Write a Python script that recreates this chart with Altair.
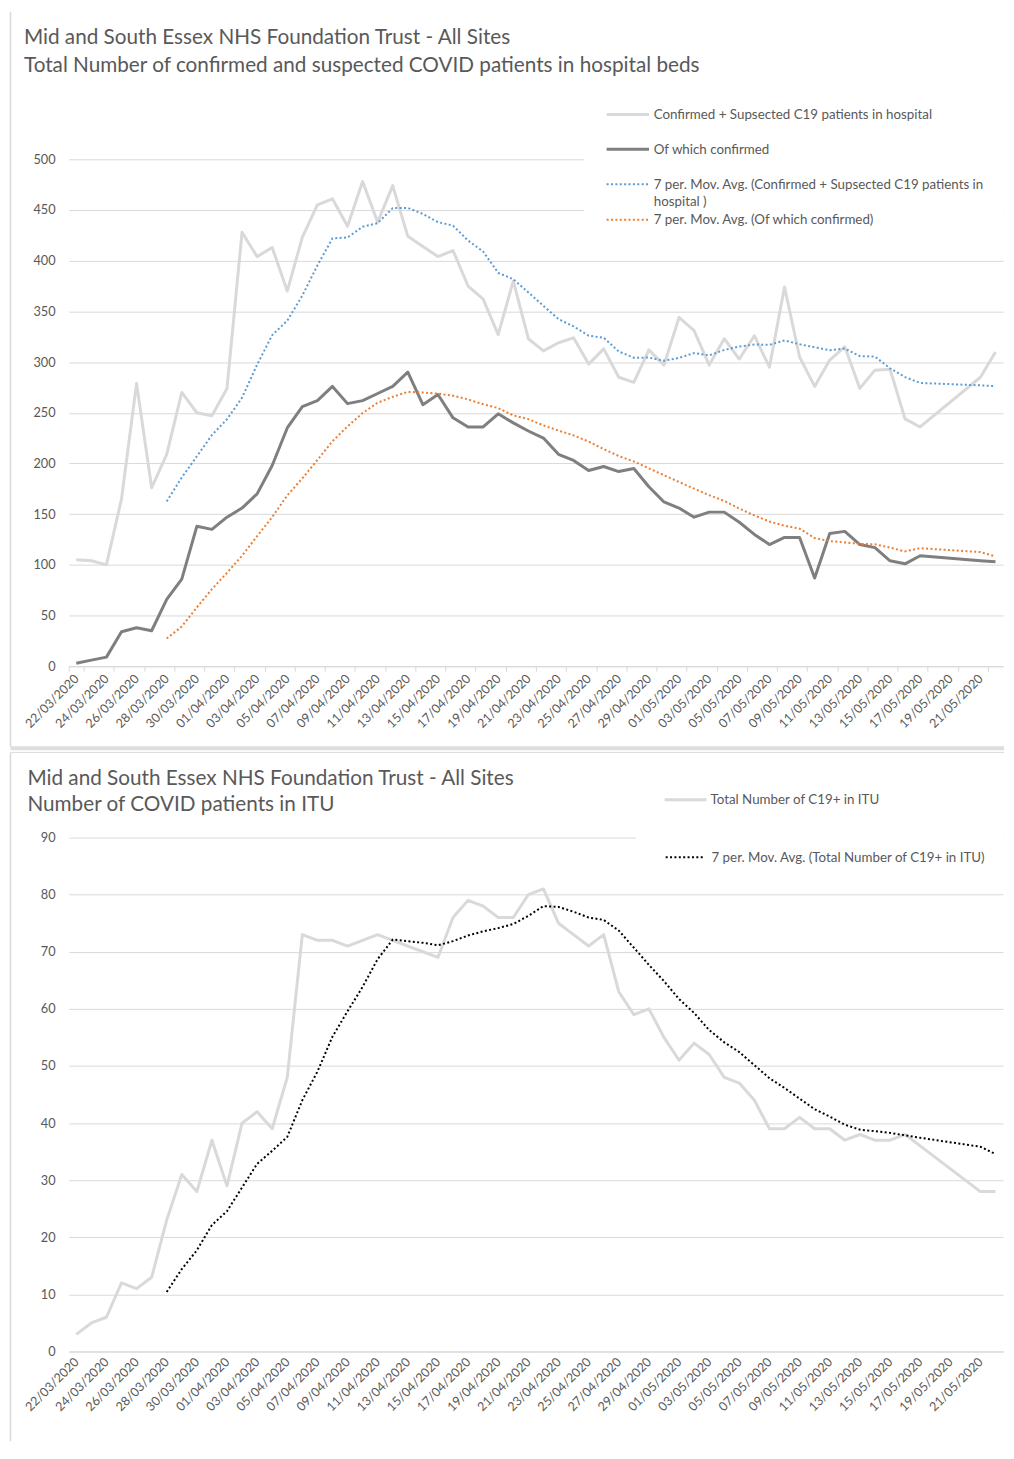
import altair as alt
import pandas as pd

# ---------------- data ----------------
dates = [d.strftime("%d/%m/%Y") for d in pd.date_range("2020-03-22", "2020-05-22")]

hospital_total = [105, 104, 100, 165, 279, 176, 209, 270, 250, 247,
                  274, 428, 404, 413, 370, 423, 455, 461, 434, 478,
                  438, 474, 424, 414, 404, 410, 375, 362, 327, 380,
                  323, 311, 319, 324, 298, 313, 285, 280, 312, 297,
                  344, 331, 297, 323, 303, 326, 295, 374, 305, 276,
                  302, 315, 274, 292, 293, 244, 236, None, None, None,
                  285, 310]

hospital_confirmed = [3, 6, 9, 34, 38, 35, 66, 86, 138, 135,
                      147, 156, 170, 198, 235, 256, 262, 276, 259, 262,
                      269, 276, 290, 258, 268, 245, 236, 236, 249, 240,
                      232, 225, 209, 203, 193, 197, 192, 195, 177, 162,
                      156, 147, 152, 152, 142, 130, 120, 127, 127, 87,
                      131, 133, 120, 117, 104, 101, 109, None, None, None,
                      104, 103]

itu_total = [3, 5, 6, 12, 11, 13, 23, 31, 28, 37,
             29, 40, 42, 39, 48, 73, 72, 72, 71, 72,
             73, 72, 71, 70, 69, 76, 79, 78, 76, 76,
             80, 81, 75, 73, 71, 73, 63, 59, 60, 55,
             51, 54, 52, 48, 47, 44, 39, 39, 41, 39,
             39, 37, 38, 37, 37, 38, 36, None, None, None,
             28, 28]

hosp_ticks = list(range(0, 501, 50))
itu_ticks = list(range(0, 91, 10))
label_dates = dates[::2]

title_top = ["Mid and South Essex NHS Foundation Trust - All Sites",
             "Total Number of confirmed and suspected COVID patients in hospital beds"]
title_bottom = ["Mid and South Essex NHS Foundation Trust - All Sites",
                "Number of COVID patients in ITU"]
legend_top = ["Confirmed + Supsected C19 patients in hospital",
              "Of which confirmed",
              "7 per. Mov. Avg. (Confirmed + Supsected C19 patients in",
              "hospital )",
              "7 per. Mov. Avg. (Of which confirmed)"]
legend_bottom = ["Total Number of C19+ in ITU",
                 "7 per. Mov. Avg. (Total Number of C19+ in ITU)"]

# ---------------- styling ----------------
FONT = "Lato"
TXT = "#595959"
GRID = "#D9D9D9"
LIGHT = "#D9D9D9"
DARK = "#7F7F7F"
BLUE = "#5B9BD5"
ORANGE = "#ED7D31"
DOT = [2, 2.4]
TITLE_SIZE = 20.8
LEG_SIZE = 13.4

PW = 938
TOP_H = 509
BOT_H = 516

one = pd.DataFrame({"k": [0]})

df_top = pd.DataFrame({
    "date": dates * 2,
    "idx": list(range(len(dates))) * 2,
    "series": ["total"] * len(dates) + ["confirmed"] * len(dates),
    "value": hospital_total + hospital_confirmed,
})
df_itu = pd.DataFrame({
    "date": dates,
    "idx": list(range(len(dates))),
    "series": ["itu"] * len(dates),
    "value": itu_total,
})


def x_enc(ticks):
    return alt.X(
        "date:O",
        sort=dates,
        bandPosition=0.5,
        scale=alt.Scale(type="band", domain=dates, paddingInner=0, paddingOuter=0),
        axis=alt.Axis(
            title=None, values=label_dates, labelAngle=-45, labelAlign="right",
            labelBaseline="middle", labelFont=FONT, labelFontSize=12.6,
            labelColor=TXT, labelPadding=5 if ticks else 8, labelOverlap=False,
            ticks=ticks, tickBand="extent", tickSize=5, tickColor=GRID,
            domainColor=GRID, domainWidth=1, grid=False,
        ),
    )


def y_enc(domain, values):
    return alt.Y(
        "value:Q",
        scale=alt.Scale(domain=domain, nice=False, zero=True),
        axis=alt.Axis(
            title=None, values=values, grid=True, gridColor=GRID, gridWidth=1,
            domain=False, ticks=False, tickSize=0, labelPadding=13.7,
            labelFont=FONT, labelFontSize=12.8, labelColor=TXT,
        ),
    )


def series_line(df, name, color, width, dash=None, ma=False, domain=None, values=None, ticks=True):
    ch = alt.Chart(df).transform_filter(
        f"isValid(datum.value) && datum.value !== null && datum.series == '{name}'"
    )
    if ma:
        ch = ch.transform_window(
            ma="mean(value)", n="count(value)", frame=[-6, 0], sort=[alt.SortField("idx")]
        ).transform_filter("datum.n >= 7").transform_calculate(value="datum.ma")
    kw = dict(color=color, strokeWidth=width, interpolate="linear", strokeJoin="round")
    if dash:
        kw["strokeDash"] = dash
        kw["strokeCap"] = "butt"
    return ch.mark_line(**kw).encode(
        x=x_enc(ticks), y=y_enc(domain, values), order="idx:Q"
    )


def text(t, x, y, size, color=TXT):
    return alt.Chart(one).mark_text(
        text=t, align="left", baseline="alphabetic", font=FONT, fontSize=size, color=color
    ).encode(x=alt.value(x), y=alt.value(y))


def hrule(x1, x2, y, color, width, dash=None):
    kw = dict(color=color, strokeWidth=width)
    if dash:
        kw["strokeDash"] = dash
    return alt.Chart(one).mark_rule(**kw).encode(
        x=alt.value(x1), x2=alt.value(x2), y=alt.value(y)
    )


def vrule(x, y1, y2, color, width):
    return alt.Chart(one).mark_rule(color=color, strokeWidth=width).encode(
        x=alt.value(x), y=alt.value(y1), y2=alt.value(y2)
    )


def white_box(x1, x2, y1, y2):
    return alt.Chart(one).mark_rect(color="white").encode(
        x=alt.value(x1), x2=alt.value(x2), y=alt.value(y1), y2=alt.value(y2)
    )


# ---------------- top chart (origin = plot top-left, page 66.7,156.7) ----------------
top_dom, top_vals = [0, 500], hosp_ticks
top = alt.layer(
    white_box(517.3, 938, -62, 78),
    series_line(df_top, "total", LIGHT, 3, domain=top_dom, values=top_vals),
    series_line(df_top, "confirmed", DARK, 3, domain=top_dom, values=top_vals),
    series_line(df_top, "total", BLUE, 2, dash=DOT, ma=True, domain=top_dom, values=top_vals),
    series_line(df_top, "confirmed", ORANGE, 2, dash=DOT, ma=True, domain=top_dom, values=top_vals),
    hrule(540, 582.6, -45, LIGHT, 3),
    hrule(540, 582.6, -10, DARK, 3),
    hrule(540, 582.6, 25, BLUE, 2, DOT),
    hrule(540, 582.6, 60.6, ORANGE, 2, DOT),
    text(legend_top[0], 587.3, -40.3, LEG_SIZE),
    text(legend_top[1], 587.3, -5.3, LEG_SIZE),
    text(legend_top[2], 587.3, 29.8, LEG_SIZE),
    text(legend_top[3], 587.3, 47.4, LEG_SIZE),
    text(legend_top[4], 587.3, 65.4, LEG_SIZE),
    text(title_top[0], -45, -115.5, TITLE_SIZE),
    text(title_top[1], -45, -87.5, TITLE_SIZE),
    vrule(-58.5, -148, 590, "#D9D9D9", 1.5),
    hrule(-58.5, 939, 591.3, "#DDDDDD", 4),
).properties(width=PW, height=TOP_H)

# ---------------- bottom chart (origin page 66.7,836) ----------------
bot_dom, bot_vals = [0, 90], itu_ticks
bottom = alt.layer(
    white_box(569.3, 938, -56, 39),
    series_line(df_itu, "itu", LIGHT, 3, domain=bot_dom, values=bot_vals, ticks=False),
    series_line(df_itu, "itu", "#000000", 2, dash=DOT, ma=True, domain=bot_dom, values=bot_vals, ticks=False),
    hrule(598.3, 640.3, -38, LIGHT, 3),
    hrule(599.3, 637.3, 19.7, "#000000", 2, DOT),
    text(legend_bottom[0], 644.3, -33.4, LEG_SIZE),
    text(legend_bottom[1], 645.3, 24.4, LEG_SIZE),
    text(title_bottom[0], -41.5, -53, TITLE_SIZE),
    text(title_bottom[1], -41.5, -26.5, TITLE_SIZE),
    vrule(-58.5, -85.5, 606, "#D9D9D9", 1.5),
    hrule(-58.5, 939, -85.5, "#D9D9D9", 1),
).properties(width=PW, height=BOT_H)

chart = alt.vconcat(top, bottom, spacing=0).properties(
    padding=0
).resolve_scale(x="independent", y="independent").configure_view(stroke=None)

chart.save("out.html", embed_options={"renderer": "svg", "actions": False})
